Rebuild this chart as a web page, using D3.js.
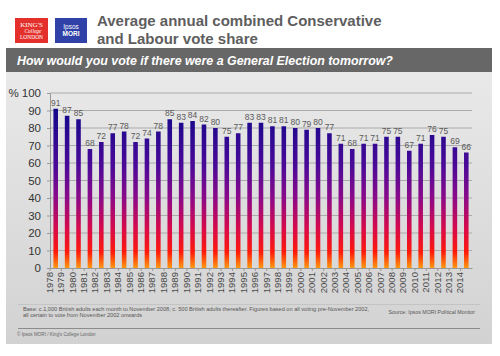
<!DOCTYPE html>
<html><head><meta charset="utf-8">
<script src="https://cdn.jsdelivr.net/npm/d3@7"></script>
<style>body{margin:0;background:#fff}svg{display:block;font-family:"Liberation Sans",Arial,sans-serif}</style>
</head><body><svg id="c" width="500" height="356"></svg>
<script>
const years = ["1978","1979","1980","1981","1982","1983","1984","1985","1986","1987","1988","1989","1990","1991","1992","1993","1994","1995","1996","1997","1998","1999","2000","2001","2002","2003","2004","2005","2006","2007","2008","2009","2010","2011","2012","2013","2014"];
const share = [91,87,85,68,72,77,78,72,74,78,85,83,84,82,80,75,77,83,83,81,81,80,79,80,77,71,68,71,71,75,75,67,71,76,75,69,66];
const yTicks = [0,10,20,30,40,50,60,70,80,90,100];
const titleLines = ["Average annual combined Conservative","and Labour vote share"];
const question = "How would you vote if there were a General Election tomorrow?";
const baseNote = ["Base: c.1,000 British adults each month to November 2008; c. 500 British adults thereafter.  Figures based on all voting pre-November 2002,","all certain to vote from November 2002 onwards"];
const sourceNote = "Source: Ipsos MORI Political Monitor";
const copyNote = "© Ipsos MORI / King's College London";

const svg = d3.select("#c");
const defs = svg.append("defs");
const pg = defs.append("linearGradient").attr("id","panel").attr("x1",0).attr("y1",0).attr("x2",0).attr("y2",1);
pg.append("stop").attr("offset","0%").attr("stop-color","#e9e9e9");
pg.append("stop").attr("offset","100%").attr("stop-color","#d2d2d2");

// panel
svg.append("rect").attr("x",6).attr("y",72).attr("width",486).attr("height",272).attr("fill","url(#panel)");
svg.append("rect").attr("x",6).attr("y",48).attr("width",486).attr("height",24).attr("fill","#676767");
svg.append("text").attr("x",17).attr("y",65).attr("fill","#fff").attr("font-size",12.4).attr("font-weight","bold").attr("font-style","italic").text(question);

// logos
svg.append("rect").attr("x",15).attr("y",18).attr("width",33).attr("height",25).attr("fill","#e3302b");
const kt = svg.append("g").attr("fill","#fff").attr("font-family","Liberation Serif,serif").attr("text-anchor","middle");
kt.append("text").attr("x",31.5).attr("y",27).attr("font-size",7).text("KING'S");
kt.append("text").attr("x",33).attr("y",33).attr("font-size",5.5).attr("font-style","italic").text("College");
kt.append("text").attr("x",31.5).attr("y",39).attr("font-size",5.5).text("LONDON");
svg.append("rect").attr("x",55).attr("y",18).attr("width",32).attr("height",25).attr("fill","#3041a8");
const it = svg.append("g").attr("fill","#fff").attr("text-anchor","middle").attr("font-size",6.5);
it.append("text").attr("x",71).attr("y",29).text("Ipsos");
it.append("text").attr("x",71).attr("y",36).attr("font-weight","bold").text("MORI");

// title
svg.append("g").selectAll("text").data(titleLines).join("text")
  .attr("x",97).attr("y",(d,i)=>26+i*17.5).attr("fill","#5e5e5e").attr("font-size",15).attr("font-weight","bold").text(d=>d);

// chart
const x = d3.scaleBand().domain(years).range([50,472]).paddingInner(0.6).paddingOuter(0.3);
const y = d3.scaleLinear().domain([0,100]).range([268,93]);

const bg = defs.append("linearGradient").attr("id","bar").attr("gradientUnits","userSpaceOnUse")
  .attr("x1",0).attr("x2",0).attr("y1",y(90)).attr("y2",y(0));
[["0%","#14088a"],["35%","#4a0a98"],["55%","#8a0a8a"],["75%","#d80a4a"],["90%","#ff1a0a"],["100%","#ff9a10"]]
  .forEach(s=>bg.append("stop").attr("offset",s[0]).attr("stop-color",s[1]));

svg.append("g").selectAll("line").data(yTicks.filter(d=>d>0)).join("line")
  .attr("x1",50).attr("x2",472).attr("y1",d=>y(d)).attr("y2",d=>y(d)).attr("stroke","#ababab").attr("stroke-width",1);

const ya = svg.append("g").attr("transform","translate(50,0)").call(d3.axisLeft(y).tickValues(yTicks).tickSize(3).tickPadding(6).tickFormat(d=>d===100?"% 100":d));
ya.select(".domain").attr("stroke","#999");
ya.selectAll(".tick line").attr("stroke","#999");
ya.selectAll(".tick text").attr("font-size",11.5).attr("fill","#333").attr("font-family","Liberation Sans,Arial,sans-serif");

svg.append("g").selectAll("rect").data(share).join("rect")
  .attr("x",(d,i)=>x(years[i])).attr("width",x.bandwidth())
  .attr("y",d=>y(d)).attr("height",d=>y(0)-y(d)).attr("fill","url(#bar)");

svg.append("g").selectAll("text").data(share).join("text")
  .attr("x",(d,i)=>x(years[i])+x.bandwidth()/2).attr("y",d=>y(d)-3)
  .attr("text-anchor","middle").attr("font-size",8.5).attr("fill","#5a5a5a").text(d=>d);

const xa = svg.append("g").attr("transform","translate(0,268)").call(d3.axisBottom(x).tickSize(0).tickPadding(4));
xa.select(".domain").attr("stroke","#999");
xa.selectAll(".tick text").attr("font-size",9.6).attr("fill","#4a4a4a").attr("font-family","Liberation Sans,Arial,sans-serif")
  .attr("transform","rotate(-90)").attr("text-anchor","end").attr("dx","-4").attr("dy","-0.3em").attr("x",0).attr("y",0);
// band boundary ticks
svg.append("g").selectAll("line").data(years).join("line")
  .attr("x1",d=>x(d)-x.step()*0.3).attr("x2",d=>x(d)-x.step()*0.3).attr("y1",268).attr("y2",271).attr("stroke","#999");

// footer
svg.append("line").attr("x1",18).attr("x2",480).attr("y1",304.5).attr("y2",304.5).attr("stroke","#c4c4c4");
svg.append("g").selectAll("text").data(baseNote).join("text")
  .attr("x",23).attr("y",(d,i)=>311+i*5.5).attr("font-size",5.6).attr("fill","#555").text(d=>d);
svg.append("text").attr("x",475).attr("y",314).attr("text-anchor","end").attr("font-size",5.3).attr("fill","#555").text(sourceNote);
svg.append("line").attr("x1",18).attr("x2",480).attr("y1",328.5).attr("y2",328.5).attr("stroke","#8c8c8c");
svg.append("text").attr("x",17).attr("y",336).attr("font-size",4.6).attr("fill","#666").text(copyNote);
</script></body></html>
